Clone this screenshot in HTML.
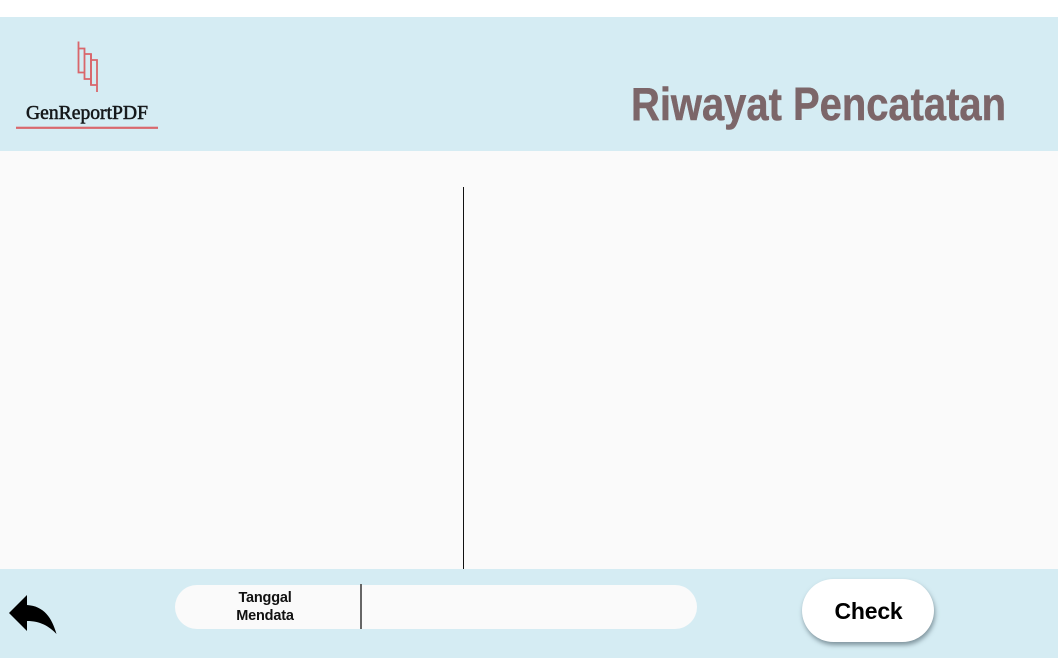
<!DOCTYPE html>
<html lang="id">
<head>
<meta charset="utf-8">
<title>Riwayat Pencatatan</title>
<style>
html,body{margin:0;padding:0;width:1058px;height:658px;overflow:hidden;background:#fff;font-family:"Liberation Sans",sans-serif}
.abs{position:absolute}
#main{left:0;top:151px;width:1058px;height:418px;background:#fafafa}
#header{left:0;top:17px;width:1058px;height:134px;background:#d5ecf3}
#footer{left:0;top:569px;width:1058px;height:89px;background:#d5ecf3}
#divider{left:463px;top:187px;width:1px;height:382px;background:#111}
#pill{left:175px;top:585px;width:522px;height:44px;border-radius:22px;background:#fafafa}
#pill-divider{left:360px;top:584px;width:1.500px;height:45px;background:#666}
#date-label{left:175px;top:589px;width:180px;text-align:center;font-size:14.500px;line-height:18px;font-weight:bold;color:#111;letter-spacing:-.2px}
#check{left:802px;top:579px;width:132px;height:63px;border:0;padding:0 0 0 1px;border-radius:32px;background:#fff;box-shadow:1px 3px 5px rgba(70,90,100,.6);font:bold 23px "Liberation Sans",sans-serif;letter-spacing:-.2px;color:#000}
#check span{position:relative;top:1px}
svg{position:absolute;left:0;top:0}
</style>
</head>
<body>
<div class="abs" id="main"></div>
<div class="abs" id="header"></div>
<div class="abs" id="footer"></div>
<div class="abs" id="divider"></div>
<svg width="1058" height="658" viewBox="0 0 1058 658">
  <g>
    <g fill="none" stroke="#d9666b" stroke-width="1.800">
      <path d="M78.500 41.500V72.500H84.500"/>
      <path d="M78.500 48.500H84.500V79H91"/>
      <path d="M84.500 54H91V85H97"/>
      <path d="M91 60H97V92"/>
      <path d="M91 54V85"/>
    </g>
    <text x="26" y="119" font-family="'Liberation Serif',serif" font-size="19.500" fill="#15181a" stroke="#15181a" stroke-width=".55" textLength="122" lengthAdjust="spacingAndGlyphs">GenReportPDF</text>
    <rect x="16" y="126.700" width="142" height="2.200" fill="#d9686d"/>
  </g>
  <text x="631" y="120" font-family="'Liberation Sans',sans-serif" font-size="46" font-weight="bold" fill="#7c6669" stroke="#7c6669" stroke-width=".5" textLength="375" lengthAdjust="spacingAndGlyphs">Riwayat Pencatatan</text>
</svg>
<div class="abs" id="pill"></div>
<div class="abs" id="pill-divider"></div>
<div class="abs" id="date-label">Tanggal<br>Mendata</div>
<svg width="1058" height="658" viewBox="0 0 1058 658" style="pointer-events:none">
  <path d="M9 613L27 595V605C44 606 52 618 56.500 634C49 626 40 621 27 621V631Z" fill="#000"/>
</svg>
<button class="abs" id="check"><span>Check</span></button>
</body>
</html>
